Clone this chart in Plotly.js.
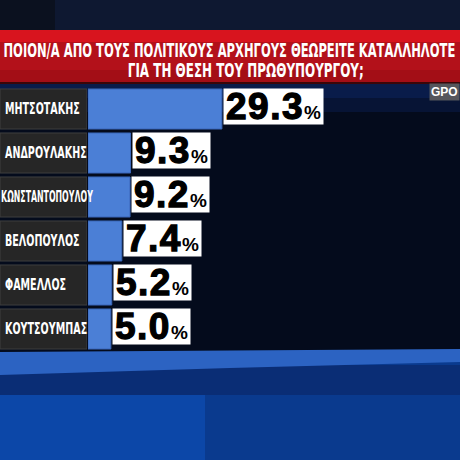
<!DOCTYPE html>
<html>
<head>
<meta charset="utf-8">
<script src="https://cdn.plot.ly/plotly-3.0.1.min.js"></script>
<style>
  html, body { margin: 0; padding: 0; background: #040b1c; }
  #chart { width: 460px; height: 460px; }
</style>
<style id="squeeze"></style>
</head>
<body>
<div id="chart"></div>
<script>
const leaders = ['ΜΗΤΣΟΤΑΚΗΣ', 'ΑΝΔΡΟΥΛΑΚΗΣ', 'ΚΩΝΣΤΑΝΤΟΠΟΥΛΟΥ', 'ΒΕΛΟΠΟΥΛΟΣ', 'ΦΑΜΕΛΛΟΣ', 'ΚΟΥΤΣΟΥΜΠΑΣ'];
const shares = [29.3, 9.3, 9.2, 7.4, 5.2, 5.0];
const titleLines = ['ΠΟΙΟΝ/Α ΑΠΟ ΤΟΥΣ ΠΟΛΙΤΙΚΟΥΣ ΑΡΧΗΓΟΥΣ ΘΕΩΡΕΙΤΕ ΚΑΤΑΛΛΗΛΟΤΕ', 'ΓΙΑ ΤΗ ΘΕΣΗ ΤΟΥ ΠΡΩΘΥΠΟΥΡΓΟΥ;'];
const source = 'GPO';

const W = 460, H = 460;
const M = { l: 0, r: 0, t: 87, b: 109 };
const NARROW = 'DejaVu Sans Condensed, DejaVu Sans, sans-serif';
const HEAVY = 'Liberation Sans, Arial, sans-serif';

// pixel -> paper helpers for the decoration
function px(x) { return x / W; }
function py(y) { return (H - M.b - y) / (H - M.t - M.b); }

// grey name plates (left panel)
const plates = {
  type: 'bar',
  orientation: 'h',
  y: leaders,
  x: leaders.map(() => 1),
  xaxis: 'x2',
  yaxis: 'y',
  marker: { color: '#262626', line: { color: '#3f3f3f', width: 1 } },
  hoverinfo: 'skip'
};

// blue result bars
const bars = {
  type: 'bar',
  orientation: 'h',
  y: leaders,
  x: shares,
  xaxis: 'x',
  yaxis: 'y',
  marker: { color: '#4b7fd6', line: { color: '#3a66b8', width: 1 } },
  hoverinfo: 'skip'
};

// css squeeze per annotation index (condensed broadcast lettering)
const squeeze = [];

const notes = [];
notes.push({
  xref: 'paper', yref: 'paper',
  x: px(1), y: py(50), xanchor: 'left', yanchor: 'middle',
  text: '<b>' + titleLines[0] + '</b>',
  font: { family: NARROW, size: 19, color: '#ffffff' },
  showarrow: false
});
squeeze.push([notes.length - 1, 0.675, 'left']);
notes.push({
  xref: 'paper', yref: 'paper',
  x: px(246), y: py(70), xanchor: 'center', yanchor: 'middle',
  text: '<b>' + titleLines[1] + '</b>',
  font: { family: NARROW, size: 19, color: '#ffffff' },
  showarrow: false
});
squeeze.push([notes.length - 1, 0.7, 'center']);
notes.push({
  xref: 'paper', yref: 'paper',
  x: 1, y: py(92), xanchor: 'right', yanchor: 'middle',
  text: '<b>' + source + '</b>',
  font: { family: HEAVY, size: 12, color: '#ffffff' },
  bgcolor: '#55565c',
  borderpad: 1,
  showarrow: false
});

leaders.forEach((name) => {
  notes.push({
    xref: 'x2', yref: 'y',
    x: 0, y: name, xanchor: 'left', yanchor: 'middle',
    xshift: name.length > 12 ? -1 : 3,
    text: '<b>' + name + '</b>',
    font: { family: NARROW, size: 15, color: '#ffffff' },
    showarrow: false
  });
  squeeze.push([notes.length - 1, name.length > 12 ? 0.58 : 0.71, 'left']);
});

// white value boxes
shares.forEach((v, i) => {
  notes.push({
    xref: 'x', yref: 'y',
    x: v, y: leaders[i],
    xanchor: 'left', yanchor: 'middle',
    xshift: 1, yshift: 2.5,
    text: '<span style="stroke:#000000;stroke-width:1.3px;letter-spacing:1.5px"><b>' + v.toFixed(1) +
      '</b></span><span style="font-size:19px"><b>%</b></span>',
    font: { family: HEAVY, size: 37, color: '#000000' },
    bgcolor: '#ffffff',
    borderpad: 2,
    height: 31,
    showarrow: false
  });
});

document.getElementById('squeeze').textContent = squeeze.map(([i, k, o]) =>
  '.annotation[data-index="' + i + '"] text { transform-box: fill-box; transform-origin: ' + o +
  ' center; transform: scaleX(' + k + '); }'
).join('\n');

const shapes = [
  // upper dark strip
  { type: 'rect', xref: 'paper', yref: 'paper', x0: 0, x1: 1, y0: py(30), y1: py(0),
    fillcolor: '#0b111f', line: { width: 0 }, layer: 'below' },
  { type: 'rect', xref: 'paper', yref: 'paper', x0: px(55), x1: 1, y0: py(30), y1: py(0),
    fillcolor: '#0f1a36', opacity: 0.8, line: { width: 0 }, layer: 'below' },
  // navy glow under the banner
  { type: 'rect', xref: 'paper', yref: 'paper', x0: 0, x1: 1, y0: py(112), y1: py(83),
    fillcolor: '#0b1d4a', opacity: 0.55, line: { width: 0 }, layer: 'below' },
  { type: 'rect', xref: 'paper', yref: 'paper', x0: 0, x1: 1, y0: py(98), y1: py(83),
    fillcolor: '#0c2258', opacity: 0.6, line: { width: 0 }, layer: 'below' },
  // lower blue floor
  { type: 'rect', xref: 'paper', yref: 'paper', x0: 0, x1: 1, y0: py(460), y1: py(360),
    fillcolor: '#0a3a8e', line: { width: 0 }, layer: 'below' },
  { type: 'rect', xref: 'paper', yref: 'paper', x0: 0, x1: 1, y0: py(395), y1: py(365),
    fillcolor: '#0a2d75', line: { width: 0 }, layer: 'below' },
  { type: 'rect', xref: 'paper', yref: 'paper', x0: 0, x1: px(205), y0: py(460), y1: py(395),
    fillcolor: '#0c47a8', line: { width: 0 }, layer: 'below' },
  // light blue stripe
  { type: 'path', xref: 'paper', yref: 'paper', layer: 'below',
    path: 'M 0 ' + py(352) + ' L 1 ' + py(349) + ' L 1 ' + py(362) + ' L ' + px(230) + ' ' + py(368) + ' L 0 ' + py(375) + ' Z',
    fillcolor: '#2c63c2', line: { width: 0 } },
  // red banner
  { type: 'rect', xref: 'paper', yref: 'paper', x0: 0, x1: 1, y0: py(82), y1: py(30),
    fillcolor: '#b3111a', line: { width: 0 }, layer: 'below' },
  { type: 'rect', xref: 'paper', yref: 'paper', x0: 0, x1: 1, y0: py(42), y1: py(30),
    fillcolor: '#d8141e', line: { width: 0 }, layer: 'below' },
  { type: 'rect', xref: 'paper', yref: 'paper', x0: 0, x1: 1, y0: py(82), y1: py(70),
    fillcolor: '#980d14', opacity: 0.6, line: { width: 0 }, layer: 'below' },
  { type: 'rect', xref: 'paper', yref: 'paper', x0: 0, x1: 1, y0: py(84), y1: py(82),
    fillcolor: '#3a0608', line: { width: 0 }, layer: 'below' }
];

const layout = {
  width: W,
  height: H,
  margin: M,
  paper_bgcolor: '#040b1c',
  plot_bgcolor: 'rgba(0,0,0,0)',
  showlegend: false,
  barmode: 'overlay',
  bargap: 0.09,
  xaxis: { domain: [88 / W, 1], range: [0, 81.4], visible: false, fixedrange: true },
  xaxis2: { domain: [0, 87 / W], range: [0, 1], visible: false, fixedrange: true, anchor: 'y' },
  yaxis: { autorange: 'reversed', visible: false, fixedrange: true },
  shapes: shapes,
  annotations: notes
};

Plotly.newPlot('chart', [plates, bars], layout, {
  displayModeBar: false,
  staticPlot: true
});
</script>
</body>
</html>
